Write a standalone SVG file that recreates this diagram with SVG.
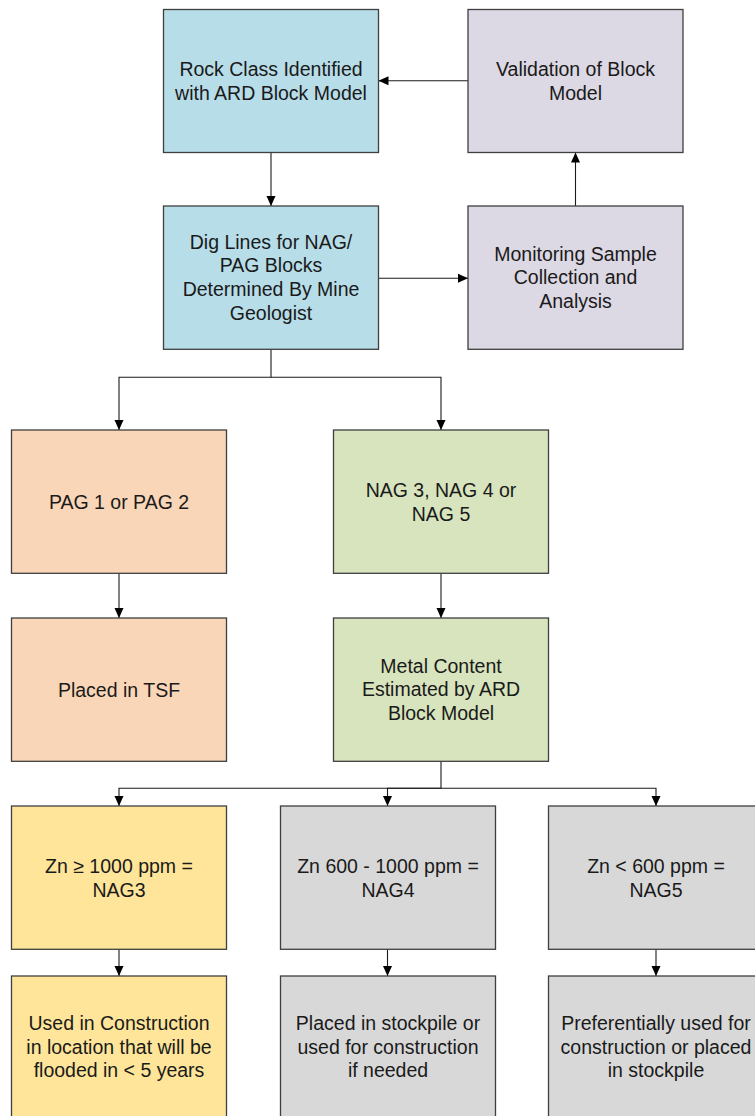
<svg xmlns="http://www.w3.org/2000/svg" width="755" height="1116" viewBox="0 0 755 1116">
<style>
.box{stroke:#3f3f3f;stroke-width:1.3}
.blue{fill:#b7dde8}
.lav{fill:#dcd8e4}
.peach{fill:#fad6b8}
.green{fill:#d7e4bd}
.yellow{fill:#fee599}
.gray{fill:#d8d8d8}
text{font-family:"Liberation Sans",Arial,sans-serif;font-size:19.5px;fill:#1a1a1a;text-anchor:middle}
.conn{fill:none;stroke:#1a1a1a;stroke-width:1.1}
</style>
<defs>
<marker id="ah" viewBox="0 0 10 10" refX="10" refY="5" markerWidth="10" markerHeight="10" markerUnits="userSpaceOnUse" orient="auto">
<path d="M0,0.5 L10,5 L0,9.5 z" fill="#000"/>
</marker>
</defs>
<rect width="755" height="1116" fill="#ffffff"/>
<g id="connectors">
<path class="conn" d="M271,152.5 V206" marker-end="url(#ah)"/>
<path class="conn" d="M468,80.7 H378.5" marker-end="url(#ah)"/>
<path class="conn" d="M378.5,278.3 H468" marker-end="url(#ah)"/>
<path class="conn" d="M575.5,206 V152.5" marker-end="url(#ah)"/>
<path class="conn" d="M271,349.3 V377.3 H119 V430" marker-end="url(#ah)"/>
<path class="conn" d="M271,377.3 H441 V430" marker-end="url(#ah)"/>
<path class="conn" d="M119,573.3 V618" marker-end="url(#ah)"/>
<path class="conn" d="M441,573.3 V618" marker-end="url(#ah)"/>
<path class="conn" d="M441,761.3 V788.3 H119 V806" marker-end="url(#ah)"/>
<path class="conn" d="M441,788.3 H387.5 V806" marker-end="url(#ah)"/>
<path class="conn" d="M441,788.3 H656 V806" marker-end="url(#ah)"/>
<path class="conn" d="M119,949.3 V976" marker-end="url(#ah)"/>
<path class="conn" d="M387.5,949.3 V976" marker-end="url(#ah)"/>
<path class="conn" d="M656,949.3 V976" marker-end="url(#ah)"/>
</g>
<g id="rock-class">
<rect class="box blue" x="163.5" y="9.5" width="215" height="143"/>
<text x="271" y="76">Rock Class Identified</text>
<text x="271" y="100">with ARD Block Model</text>
</g>
<g id="validation">
<rect class="box lav" x="468" y="9.5" width="215" height="143"/>
<text x="575.5" y="76">Validation of Block</text>
<text x="575.5" y="100">Model</text>
</g>
<g id="dig-lines">
<rect class="box blue" x="163.5" y="206" width="215" height="143.3"/>
<text x="271" y="248.7">Dig Lines for NAG/</text>
<text x="271" y="272.4">PAG Blocks</text>
<text x="271" y="296.1">Determined By Mine</text>
<text x="271" y="319.8">Geologist</text>
</g>
<g id="monitoring">
<rect class="box lav" x="468" y="206" width="215" height="143.3"/>
<text x="575.5" y="260.5">Monitoring Sample</text>
<text x="575.5" y="284.2">Collection and</text>
<text x="575.5" y="307.9">Analysis</text>
</g>
<g id="pag">
<rect class="box peach" x="11.5" y="430" width="215" height="143.3"/>
<text x="119" y="508.7">PAG 1 or PAG 2</text>
</g>
<g id="nag">
<rect class="box green" x="333.5" y="430" width="215" height="143.3"/>
<text x="441" y="497">NAG 3, NAG 4 or</text>
<text x="441" y="520.7">NAG 5</text>
</g>
<g id="tsf">
<rect class="box peach" x="11.5" y="618" width="215" height="143.3"/>
<text x="119" y="696.7">Placed in TSF</text>
</g>
<g id="metal">
<rect class="box green" x="333.5" y="618" width="215" height="143.3"/>
<text x="441" y="672.5">Metal Content</text>
<text x="441" y="696.3">Estimated by ARD</text>
<text x="441" y="720">Block Model</text>
</g>
<g id="nag3">
<rect class="box yellow" x="11.5" y="806" width="215" height="143.3"/>
<text x="119" y="872.5">Zn ≥ 1000 ppm =</text>
<text x="119" y="896.5">NAG3</text>
</g>
<g id="nag4">
<rect class="box gray" x="280.5" y="806" width="215" height="143.3"/>
<text x="388" y="872.5">Zn 600 - 1000 ppm =</text>
<text x="388" y="896.5">NAG4</text>
</g>
<g id="nag5">
<rect class="box gray" x="548.5" y="806" width="215" height="143.3"/>
<text x="656" y="872.5">Zn &lt; 600 ppm =</text>
<text x="656" y="896.5">NAG5</text>
</g>
<g id="construction">
<rect class="box yellow" x="11.5" y="976" width="215" height="143"/>
<text x="119" y="1030.4">Used in Construction</text>
<text x="119" y="1053.8">in location that will be</text>
<text x="119" y="1077.2">flooded in &lt; 5 years</text>
</g>
<g id="stockpile">
<rect class="box gray" x="280.5" y="976" width="215" height="143"/>
<text x="388" y="1030.4">Placed in stockpile or</text>
<text x="388" y="1053.8">used for construction</text>
<text x="388" y="1077.2">if needed</text>
</g>
<g id="preferential">
<rect class="box gray" x="548.5" y="976" width="215" height="143"/>
<text x="656" y="1030.4">Preferentially used for</text>
<text x="656" y="1053.8">construction or placed</text>
<text x="656" y="1077.2">in stockpile</text>
</g>
</svg>
